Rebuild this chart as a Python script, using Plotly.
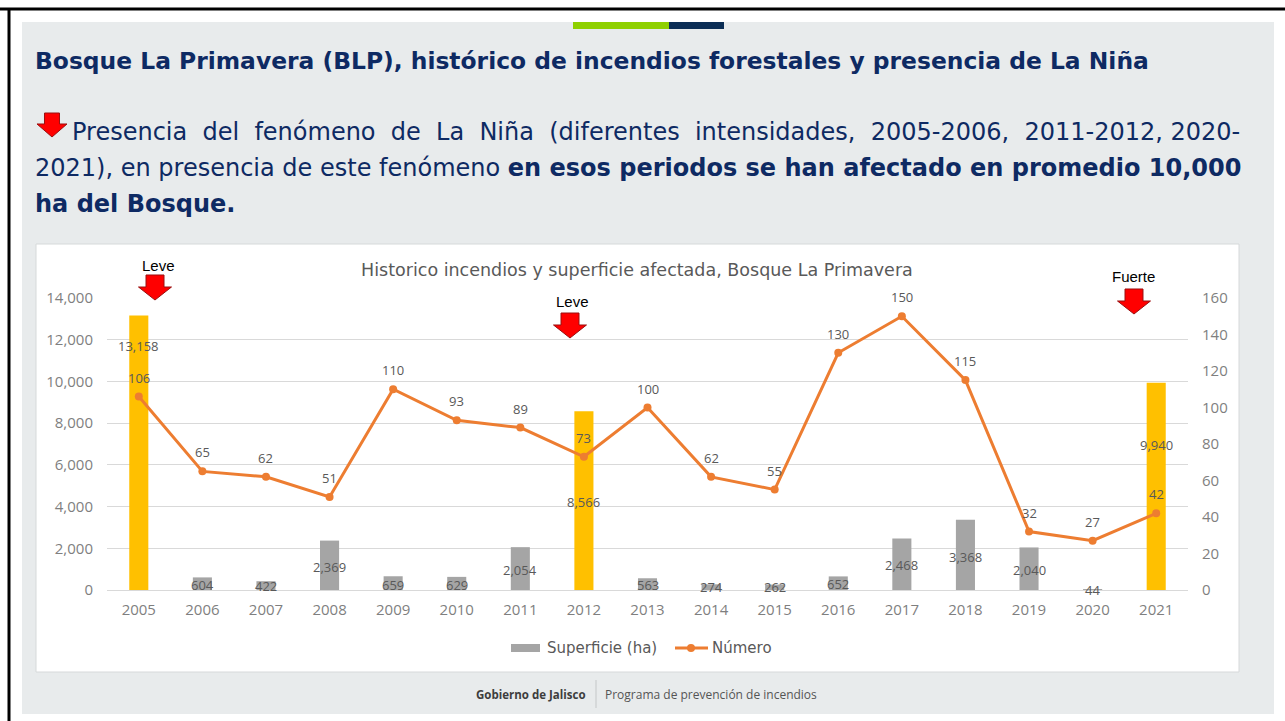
import plotly.graph_objects as go

# ---------------- data ----------------
years = ["2005", "2006", "2007", "2008", "2009", "2010", "2011", "2012", "2013",
         "2014", "2015", "2016", "2017", "2018", "2019", "2020", "2021"]
superficie = [13158, 604, 422, 2369, 659, 629, 2054, 8566, 563,
              274, 262, 652, 2468, 3368, 2040, 44, 9940]
numero = [106, 65, 62, 51, 110, 93, 89, 73, 100,
          62, 55, 130, 150, 115, 32, 27, 42]
nina_years = ["2005", "2012", "2021"]
nina_intensity = ["Leve", "Leve", "Fuerte"]
left_ticks = [0, 2000, 4000, 6000, 8000, 10000, 12000, 14000]
right_ticks = [0, 20, 40, 60, 80, 100, 120, 140, 160]

# ---------------- layout helpers ----------------
W, H = 1285, 721
def px(x):
    return x / W
def py(y):
    return 1 - y / H

NAVY = "#0e2a63"
GOLD = "#FFC000"
GREY = "#A5A5A5"
ORANGE = "#ED7D31"
LABEL = "#595959"
TICK = "#7f7f7f"
FONT = "Open Sans"
WIDE = "DejaVu Sans"

# label anchor heights for the bar value labels (left-axis units, as placed in the original)
bar_label_y = [11700, 240, 190, 1100, 240, 240, 960, 4220, 240,
               140, 140, 290, 1200, 1580, 960, 0, 6950]

bar_colors = [GOLD if y in nina_years else GREY for y in years]

fig = go.Figure()
fig.add_trace(go.Bar(
    x=years, y=superficie, marker=dict(color=bar_colors, line=dict(width=0)),
    name="Superficie (ha)", showlegend=False, yaxis="y", hoverinfo="x+y"))
fig.add_trace(go.Scatter(
    x=years, y=numero, mode="lines+markers", name="Número", yaxis="y2",
    line=dict(color=ORANGE, width=3), marker=dict(color=ORANGE, size=8),
    showlegend=False))

shapes = []
shapes.append(dict(type="line", xref="paper", yref="paper", x0=px(0), x1=px(W), y0=py(9), y1=py(9),
                   line=dict(color="black", width=3), layer="below"))
shapes.append(dict(type="line", xref="paper", yref="paper", x0=px(9), x1=px(9), y0=py(8), y1=py(H),
                   line=dict(color="black", width=3), layer="below"))
shapes.append(dict(type="rect", xref="paper", yref="paper", x0=px(22), x1=px(1274), y0=py(22), y1=py(714),
                   fillcolor="#e8ebec", line=dict(width=0), layer="below"))
shapes.append(dict(type="rect", xref="paper", yref="paper", x0=px(573), x1=px(669), y0=py(22), y1=py(29),
                   fillcolor="#8fd000", line=dict(width=0), layer="below"))
shapes.append(dict(type="rect", xref="paper", yref="paper", x0=px(669), x1=px(724), y0=py(22), y1=py(29),
                   fillcolor="#0b2d55", line=dict(width=0), layer="below"))
shapes.append(dict(type="rect", xref="paper", yref="paper", x0=px(36), x1=px(1239), y0=py(244), y1=py(672),
                   fillcolor="white", line=dict(color="#d6d9da", width=1), layer="below"))
shapes.append(dict(type="line", xref="paper", yref="paper", x0=px(596), x1=px(596), y0=py(680), y1=py(708),
                   line=dict(color="#c4c7c8", width=1), layer="below"))

def arrow(cx, top, shaft_w, head_w, shaft_h, head_h):
    pts = [(cx - shaft_w / 2, top), (cx + shaft_w / 2, top), (cx + shaft_w / 2, top + shaft_h),
           (cx + head_w / 2, top + shaft_h), (cx, top + shaft_h + head_h),
           (cx - head_w / 2, top + shaft_h), (cx - shaft_w / 2, top + shaft_h)]
    path = "M " + " L ".join(f"{px(x):.5f},{py(y):.5f}" for x, y in pts) + " Z"
    return dict(type="path", xref="paper", yref="paper", path=path,
                fillcolor="#ff0000", line=dict(color="#9a1010", width=1), layer="above")

shapes.append(arrow(52, 113, 15, 30, 11, 13))
arrow_pos = [(155, 275), (570, 313), (1134, 289)]
text_pos = [(158, 265), (572, 301), (1133, 276)]
for (cx, top) in arrow_pos:
    shapes.append(arrow(cx, top, 18, 33, 12, 13))

# custom legend
shapes.append(dict(type="rect", xref="paper", yref="paper", x0=px(511), x1=px(540), y0=py(644), y1=py(652),
                   fillcolor=GREY, line=dict(width=0), layer="above"))
shapes.append(dict(type="line", xref="paper", yref="paper", x0=px(675), x1=px(708), y0=py(648), y1=py(648),
                   line=dict(color=ORANGE, width=3), layer="above"))
shapes.append(dict(type="circle", xref="paper", yref="paper", x0=px(687), x1=px(695), y0=py(644), y1=py(652),
                   fillcolor=ORANGE, line=dict(width=0), layer="above"))

ann = []
def text(x, y, s, size, color, xanchor="left", family=FONT):
    ann.append(dict(x=px(x), y=py(y), xref="paper", yref="paper", text=s, showarrow=False,
                    xanchor=xanchor, yanchor="middle", font=dict(family=family, size=size, color=color)))

# paragraph line 1 is justified in the original: widen the word gaps
line1_words = ["Presencia", "del", "fenómeno", "de", "La", "Niña", "(diferentes",
               "intensidades,", "2005-2006,", "2011-2012,", "2020-"]
gap = "\u00a0 "
line1 = line1_words[0]
for k, w in enumerate(line1_words[1:]):
    line1 += (gap if k < 9 else " ") + w

text(33, 61, "<b>Bosque La Primavera (BLP), histórico de incendios forestales y presencia de La Niña</b>", 23.4, NAVY, family=WIDE)
text(70, 132, line1, 24, NAVY, family=WIDE)
text(33, 168, "2021), en presencia de este fenómeno <b>en esos periodos se han afectado en promedio 10,000</b>", 24, NAVY, family=WIDE)
text(33, 204, "<b>ha del Bosque.</b>", 24, NAVY, family=WIDE)
text(637, 270, "Historico incendios y superficie afectada, Bosque La Primavera", 17.5, LABEL, "center", WIDE)
text(545, 648, "Superficie (ha)", 15, LABEL, family=WIDE)
text(710, 648, "Número", 15, LABEL, family=WIDE)
text(588, 694, "<b>Gobierno de Jalisco</b>", 11.5, "#3d3d3d", "right")
text(603, 694, "Programa de prevención de incendios", 12, "#555555")
for (tx, ty), lab in zip(text_pos, nina_intensity):
    text(tx, ty, lab, 15, "black", "center", "Liberation Sans")

# bar value labels (x given as category index)
for i, (v, ly) in enumerate(zip(superficie, bar_label_y)):
    ann.append(dict(x=i, y=ly, xref="x", yref="y", text=f"{v:,}", showarrow=False,
                    yanchor="middle", font=dict(family=FONT, size=13, color=LABEL)))
# line value labels
for i, v in enumerate(numero):
    ann.append(dict(x=i, y=v, xref="x", yref="y2", text=str(v), showarrow=False, yshift=19,
                    yanchor="middle", font=dict(family=FONT, size=13, color=LABEL)))

fig.update_layout(
    width=W, height=H, margin=dict(l=0, r=0, t=0, b=0, autoexpand=False),
    paper_bgcolor="white", plot_bgcolor="rgba(0,0,0,0)",
    bargap=0.7, showlegend=False,
    font=dict(family=FONT, color=TICK),
    xaxis=dict(domain=[px(107), px(1188)], type="category", categoryorder="array", categoryarray=years,
               range=[-0.5, len(years) - 0.5], automargin=False,
               showgrid=False, showline=True, linecolor="#d9d9d9", linewidth=1, ticks="",
               tickfont=dict(size=15, color=TICK), ticklabelstandoff=6),
    yaxis=dict(domain=[py(590), py(298)], range=[0, 14000], tickvals=left_ticks, tickformat=",d",
               automargin=False,
               showgrid=True, gridcolor="#d9d9d9", gridwidth=1, zeroline=False, showline=False,
               tickfont=dict(size=15, color=TICK), ticklabelstandoff=13),
    yaxis2=dict(overlaying="y", side="right", range=[0, 160], tickvals=right_ticks, automargin=False,
                showgrid=False, zeroline=False, showline=False,
                tickfont=dict(size=15, color=TICK), ticklabelstandoff=13),
    shapes=shapes, annotations=ann,
)

fig.write_html("out.html", config={"displayModeBar": False},
               post_script="document.body.style.margin='0';document.body.style.overflow='hidden';")
